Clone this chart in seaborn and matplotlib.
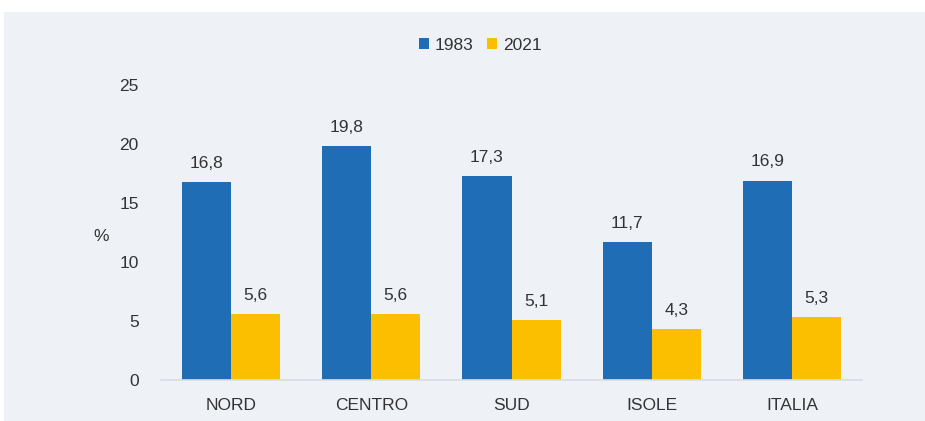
import matplotlib
matplotlib.use("Agg")
import matplotlib.pyplot as plt
from matplotlib.patches import Rectangle
import pandas as pd
import seaborn as sns

# dati
aree = ["NORD", "CENTRO", "SUD", "ISOLE", "ITALIA"]
anni = ["1983", "2021"]
val_1983 = [16.8, 19.8, 17.3, 11.7, 16.9]
val_2021 = [5.6, 5.6, 5.1, 4.3, 5.3]
colori = ["#1f6db5", "#fbbf00"]

df = pd.DataFrame({
    "area": aree * 2,
    "anno": [anni[0]] * 5 + [anni[1]] * 5,
    "valore": val_1983 + val_2021,
})

sns.set_style("white")
plt.rcParams["font.family"] = ["Liberation Sans", "DejaVu Sans"]
testo = "#333333"
sfondo = "#eef1f6"
fs = 12.5

fig = plt.figure(figsize=(9.25, 4.21), dpi=100)
fig.patch.set_facecolor("white")
fig.patches.append(Rectangle((4 / 925, 0), 1, 1 - 12 / 421, transform=fig.transFigure,
                             facecolor=sfondo, edgecolor="none", zorder=-1))
ax = fig.add_axes([161 / 925, 1 - 380 / 421, 701 / 925, 295 / 421])
ax.set_facecolor(sfondo)

sns.barplot(data=df, x="area", y="valore", hue="anno", palette=colori,
            width=0.7, ax=ax, saturation=1, linewidth=0)

for cont in ax.containers:
    ax.bar_label(cont, labels=[f"{v:.1f}".replace(".", ",") for v in cont.datavalues],
                 padding=8, fontsize=fs, color=testo)

ax.set_ylim(0, 25)
ax.set_yticks([0, 5, 10, 15, 20, 25])
ax.tick_params(axis="y", length=0, pad=16, labelsize=fs, labelcolor=testo)
ax.tick_params(axis="x", length=0, pad=13, labelsize=fs, labelcolor=testo)
ax.set_xlabel("")
ax.set_ylabel("%", rotation=0, fontsize=fs, color=testo, va="center")
ax.yaxis.set_label_coords(-0.085, 0.485)
for s in ["top", "right", "left"]:
    ax.spines[s].set_visible(False)
ax.spines["bottom"].set_color("#d9dde3")
ax.spines["bottom"].set_linewidth(1.2)

ax.legend(loc="center", bbox_to_anchor=(480 / 925, 1 - 45 / 421), bbox_transform=fig.transFigure,
          ncol=2, frameon=False, fontsize=fs, handlelength=0.6, handleheight=0.6,
          handletextpad=0.3, columnspacing=0.8, labelcolor=testo)

fig.savefig("out.png", dpi=100)
